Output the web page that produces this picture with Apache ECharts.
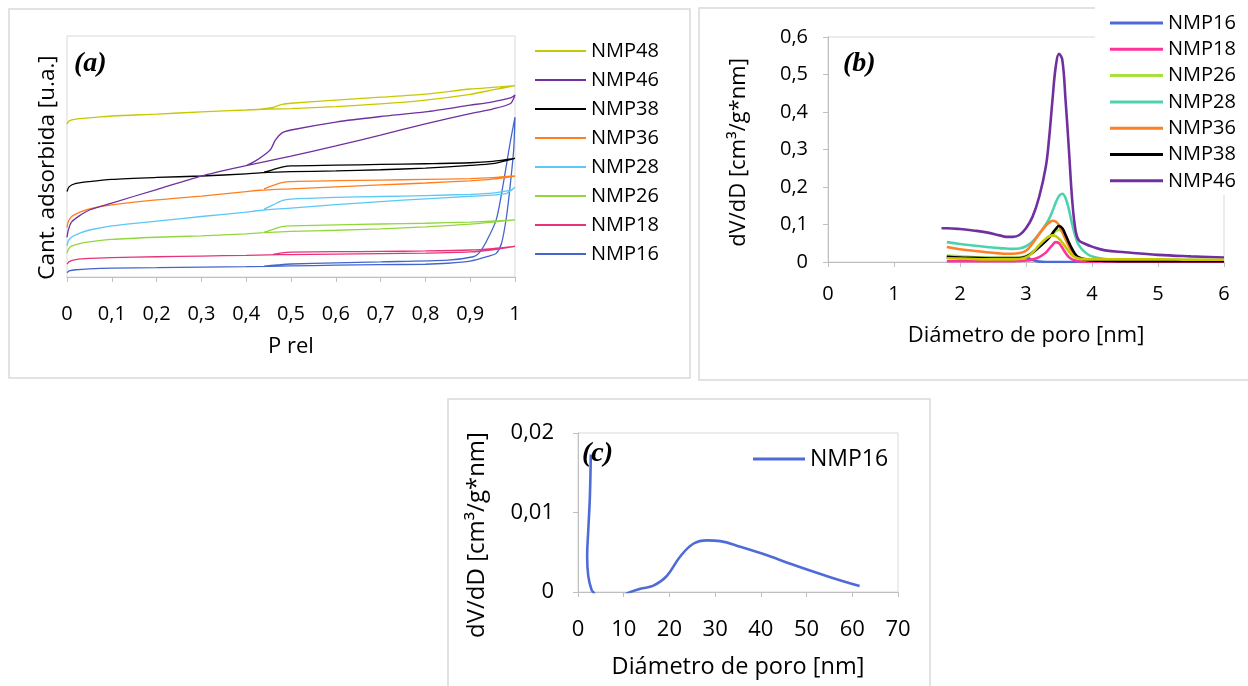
<!DOCTYPE html>
<html>
<head>
<meta charset="utf-8">
<script src="https://cdn.jsdelivr.net/npm/echarts@6/dist/echarts.min.js"></script>
<style>
html,body{margin:0;padding:0;background:#fff;}
#chart{width:1248px;height:686px;}
</style>
</head>
<body>
<div id="chart"></div>
<script>
// ---------- Panel (a): isotherms (adsorption branch then desorption branch) ----------
const aTicks = [0, 0.1, 0.2, 0.3, 0.4, 0.5, 0.6, 0.7, 0.8, 0.9, 1];
const aNames = ['NMP48', 'NMP46', 'NMP38', 'NMP36', 'NMP28', 'NMP26', 'NMP18', 'NMP16'];

const a48P = [0, 0.005, 0.02, 0.05, 0.1, 0.2, 0.3, 0.4, 0.45, 0.5, 0.6, 0.7, 0.8, 0.9, 0.95, 1.0, 0.95, 0.9, 0.8, 0.7, 0.6, 0.5, 0.48, 0.46, 0.44, 0.42];
const a48V = [63.5, 64.8, 65.5, 66.0, 66.8, 67.6, 68.5, 69.3, 69.7, 69.9, 70.7, 71.8, 73.4, 75.8, 77.6, 79.4, 78.7, 78.0, 75.9, 74.6, 73.4, 72.1, 71.6, 70.4, 69.9, 69.5];

const a46P = [0, 0.003, 0.01, 0.03, 0.05, 0.1, 0.2, 0.3, 0.4, 0.5, 0.6, 0.7, 0.8, 0.9, 0.95, 0.99, 1.0, 0.99, 0.95, 0.9, 0.8, 0.7, 0.6, 0.5, 0.48, 0.465, 0.455, 0.44, 0.42, 0.4];
const a46V = [16.5, 19.5, 22.8, 25.7, 27.8, 30.7, 36.3, 41.9, 46.2, 50.2, 54.4, 58.9, 63.5, 67.8, 69.7, 72.0, 75.5, 74.3, 72.7, 71.3, 68.5, 66.6, 64.3, 61.0, 59.8, 56.8, 53.1, 50.6, 48.1, 46.2];

const a38P = [0, 0.005, 0.02, 0.05, 0.1, 0.2, 0.3, 0.4, 0.43, 0.5, 0.6, 0.7, 0.8, 0.9, 0.95, 1.0, 0.95, 0.9, 0.8, 0.7, 0.6, 0.5, 0.48, 0.46, 0.44];
const a38V = [35.5, 37.5, 38.8, 39.6, 40.5, 41.3, 41.9, 42.8, 43.2, 43.7, 44.0, 44.5, 45.2, 46.3, 47.0, 49.2, 48.0, 47.4, 47.0, 46.7, 46.4, 46.1, 45.6, 44.6, 43.5];

const a36P = [0, 0.003, 0.01, 0.03, 0.05, 0.1, 0.2, 0.3, 0.4, 0.43, 0.5, 0.6, 0.7, 0.8, 0.9, 0.95, 1.0, 0.95, 0.9, 0.8, 0.7, 0.6, 0.5, 0.48, 0.46, 0.44];
const a36V = [20.5, 23.0, 25.0, 27.0, 28.3, 29.9, 32.0, 33.6, 35.4, 36.0, 36.6, 37.4, 38.2, 39.0, 39.9, 40.6, 41.9, 41.2, 40.8, 40.5, 40.2, 40.0, 39.6, 39.2, 38.0, 36.6];

const a28P = [0, 0.003, 0.01, 0.03, 0.05, 0.1, 0.2, 0.3, 0.4, 0.43, 0.5, 0.6, 0.7, 0.8, 0.9, 0.98, 1.0, 0.99, 0.95, 0.9, 0.8, 0.7, 0.6, 0.5, 0.48, 0.46, 0.44];
const a28V = [13.0, 15.0, 16.5, 18.3, 19.5, 21.2, 23.2, 25.1, 26.9, 27.6, 28.6, 30.0, 31.3, 32.4, 33.5, 34.6, 37.2, 36.0, 34.8, 34.3, 33.8, 33.4, 33.0, 32.3, 31.7, 29.9, 28.2];

const a26P = [0, 0.003, 0.01, 0.03, 0.05, 0.1, 0.2, 0.3, 0.4, 0.43, 0.5, 0.6, 0.7, 0.8, 0.9, 1.0, 0.9, 0.8, 0.7, 0.6, 0.5, 0.48, 0.46, 0.44];
const a26V = [10.0, 11.5, 12.8, 14.0, 14.6, 15.6, 16.5, 17.1, 17.9, 18.3, 18.9, 19.4, 20.0, 20.8, 21.9, 23.7, 22.8, 22.3, 22.0, 21.6, 21.2, 20.9, 19.8, 18.6];

const a18P = [0, 0.005, 0.02, 0.05, 0.1, 0.2, 0.3, 0.4, 0.45, 0.5, 0.6, 0.7, 0.8, 0.9, 0.95, 1.0, 0.95, 0.9, 0.8, 0.7, 0.6, 0.5, 0.48, 0.46];
const a18V = [5.3, 6.4, 7.2, 7.7, 8.0, 8.4, 8.7, 9.0, 9.2, 9.3, 9.5, 9.7, 9.9, 10.4, 11.3, 12.7, 11.8, 11.2, 10.8, 10.6, 10.5, 10.3, 10.0, 9.4];

const a16P = [0, 0.005, 0.02, 0.05, 0.1, 0.2, 0.3, 0.4, 0.5, 0.6, 0.7, 0.8, 0.85, 0.9, 0.942, 0.958, 0.970, 0.981, 0.989, 0.997, 1.0, 0.989, 0.974, 0.958, 0.934, 0.919, 0.907, 0.85, 0.7, 0.6, 0.5, 0.47, 0.44];
const a16V = [1.8, 2.5, 3.0, 3.4, 3.7, 3.9, 4.1, 4.3, 4.6, 4.9, 5.1, 5.3, 5.7, 6.6, 8.7, 9.8, 14.0, 25.0, 37.5, 52.7, 66.3, 55.5, 38.9, 23.7, 14.0, 9.8, 8.4, 7.0, 6.3, 5.9, 5.4, 5.0, 4.5];

// ---------- Panel (b): pore size distribution 0–6 nm ----------
const bTicksX = [0, 1, 2, 3, 4, 5, 6];
const bTicksY = [0, 0.1, 0.2, 0.3, 0.4, 0.5, 0.6];
const bDiam = [1.72, 1.8, 2.0, 2.2, 2.4, 2.6, 2.7, 2.8, 2.9, 3.0, 3.1, 3.2, 3.3, 3.35, 3.4, 3.45, 3.5, 3.55, 3.6, 3.65, 3.7, 3.75, 3.8, 3.9, 4.0, 4.2, 4.5, 5.0, 5.5, 6.0];
const bNMP16 = [null, 0.012, 0.011, 0.011, 0.011, 0.011, 0.011, 0.011, 0.012, 0.012, 0.005, 0.001, 0, 0, 0, 0, 0, 0, 0, 0, 0, 0, 0, 0, 0, 0, 0, 0, 0, 0];
const bNMP18 = [null, 0.002, 0.002, 0.002, 0.002, 0.002, 0.002, 0.002, 0.003, 0.004, 0.007, 0.013, 0.025, 0.035, 0.045, 0.053, 0.050, 0.038, 0.024, 0.013, 0.007, 0.004, 0.002, 0.001, 0.001, 0.001, 0.001, 0.001, 0.001, 0.001];
const bNMP26 = [null, 0.017, 0.015, 0.013, 0.012, 0.011, 0.011, 0.011, 0.012, 0.016, 0.026, 0.042, 0.058, 0.066, 0.074, 0.082, 0.086, 0.080, 0.064, 0.046, 0.030, 0.019, 0.012, 0.008, 0.007, 0.006, 0.006, 0.006, 0.005, 0.005];
const bNMP28 = [null, 0.053, 0.048, 0.044, 0.040, 0.037, 0.036, 0.035, 0.036, 0.042, 0.055, 0.075, 0.100, 0.115, 0.135, 0.158, 0.176, 0.182, 0.170, 0.140, 0.100, 0.068, 0.045, 0.025, 0.015, 0.008, 0.006, 0.005, 0.005, 0.004];
const bNMP36 = [null, 0.040, 0.034, 0.030, 0.026, 0.023, 0.022, 0.022, 0.024, 0.030, 0.050, 0.075, 0.097, 0.105, 0.110, 0.108, 0.098, 0.080, 0.060, 0.042, 0.028, 0.018, 0.012, 0.008, 0.006, 0.005, 0.005, 0.004, 0.004, 0.004];
const bNMP38 = [null, 0.014, 0.012, 0.011, 0.010, 0.009, 0.009, 0.009, 0.010, 0.014, 0.025, 0.040, 0.056, 0.065, 0.076, 0.088, 0.096, 0.090, 0.072, 0.052, 0.034, 0.020, 0.012, 0.006, 0.004, 0.003, 0.002, 0.002, 0.002, 0.002];
const bNMP46 = [0.090, 0.090, 0.088, 0.084, 0.079, 0.071, 0.067, 0.067, 0.072, 0.090, 0.121, 0.174, 0.254, 0.330, 0.430, 0.520, 0.555, 0.539, 0.430, 0.300, 0.165, 0.085, 0.058, 0.048, 0.041, 0.031, 0.026, 0.019, 0.015, 0.012];
const bNMP48 = [null, 0.010, 0.009, 0.008, 0.007, 0.007, 0.007, 0.007, 0.008, 0.012, 0.025, 0.045, 0.062, 0.068, 0.071, 0.069, 0.062, 0.052, 0.040, 0.028, 0.018, 0.012, 0.009, 0.007, 0.007, 0.007, 0.007, 0.007, 0.006, 0.006];

// ---------- Panel (c): NMP16, 0–70 nm ----------
const cTicksX = [0, 10, 20, 30, 40, 50, 60, 70];
const cTicksY = [0, 0.01, 0.02];
const cDiam = [2.8, 2.6, 2.25, 2.0, 2.25, 2.95, 3.45, 5.0, 8.0, 10.6, 13.6, 16.5, 19.4, 22.4, 25.3, 28.2, 31.1, 35.5, 40.4, 47.7, 55.0, 61.6];
const cNMP16 = [0.0173, 0.0120, 0.0078, 0.0045, 0.0020, 0.0003, -0.0001, -0.0015, -0.0012, -0.0002, 0.0004, 0.0008, 0.0020, 0.0045, 0.0061, 0.0065, 0.0064, 0.0057, 0.0048, 0.0033, 0.0019, 0.00075];

// ---------- styling ----------
const FONT = '"Open Sans", "Liberation Sans", sans-serif';
const AXIS_GRAY = '#bfbfbf';
const BORDER_GRAY = '#d9d9d9';
const comma = v => String(+Number(v).toFixed(2)).replace('.', ',');

const aColors = {NMP48: '#c8c800', NMP46: '#7030a0', NMP38: '#000000', NMP36: '#ff7f1e', NMP28: '#5bc8f5', NMP26: '#92d83c', NMP18: '#e6337a', NMP16: '#4466cc'};
const aData = {NMP48: [a48P, a48V], NMP46: [a46P, a46V], NMP38: [a38P, a38V], NMP36: [a36P, a36V], NMP28: [a28P, a28V], NMP26: [a26P, a26V], NMP18: [a18P, a18V], NMP16: [a16P, a16V]};

const bSeriesDef = [
  ['NMP16', bNMP16, '#4a6bd6'],
  ['NMP18', bNMP18, '#ff3399'],
  ['NMP26', bNMP26, '#a8e040'],
  ['NMP28', bNMP28, '#4fd1b0'],
  ['NMP36', bNMP36, '#ff7f27'],
  ['NMP38', bNMP38, '#000000'],
  ['NMP46', bNMP46, '#7030a0'],
  ['NMP48', bNMP48, '#c8c800']
];
const bLegendNames = ['NMP16', 'NMP18', 'NMP26', 'NMP28', 'NMP36', 'NMP38', 'NMP46'];

const zip = (xs, ys) => xs.map((x, i) => [x, ys[i]]);

const series = [];
aNames.slice().reverse().forEach(n => {
  series.push({
    name: n, type: 'line', xAxisIndex: 0, yAxisIndex: 0,
    data: zip(aData[n][0], aData[n][1]),
    showSymbol: false, smooth: 0.25, color: aColors[n],
    lineStyle: {width: 1.3}
  });
});
bSeriesDef.forEach(([n, vals, col]) => {
  series.push({
    name: n + ' (b)', type: 'line', xAxisIndex: 1, yAxisIndex: 1,
    data: zip(bDiam, vals),
    showSymbol: false, smooth: 0.4, color: col, connectNulls: false,
    lineStyle: {width: 2.6}
  });
});
series.push({
  name: 'NMP16 (c)', type: 'line', xAxisIndex: 2, yAxisIndex: 2,
  data: zip(cDiam, cNMP16),
  showSymbol: false, smooth: 0.4, color: '#4f6bd8',
  lineStyle: {width: 2.6}
});

const baseAxis = {
  axisLine: {show: true, lineStyle: {color: AXIS_GRAY, width: 1}},
  axisTick: {show: true, inside: false, length: 5, lineStyle: {color: AXIS_GRAY}},
  splitLine: {show: false},
  nameLocation: 'middle',
  nameTextStyle: {color: '#000', fontFamily: FONT, fontSize: 22}
};

const option = {
  animation: false,
  backgroundColor: '#ffffff',
  textStyle: {fontFamily: FONT},
  grid: [
    {left: 67, top: 36, width: 448, height: 241, show: true, borderColor: BORDER_GRAY, borderWidth: 1, backgroundColor: 'transparent', containLabel: false},
    {left: 828, top: 37, width: 396, height: 225, show: true, borderColor: BORDER_GRAY, borderWidth: 1, backgroundColor: 'transparent', containLabel: false},
    {left: 578, top: 433, width: 320, height: 159, show: true, borderColor: BORDER_GRAY, borderWidth: 1, backgroundColor: 'transparent', containLabel: false}
  ],
  xAxis: [
    Object.assign({}, baseAxis, {
      gridIndex: 0, type: 'value', min: aTicks[0], max: aTicks[aTicks.length - 1], interval: 0.1,
      name: 'P rel', nameGap: 59,
      axisLabel: {color: '#000', fontSize: 20, margin: 27, formatter: comma}
    }),
    Object.assign({}, baseAxis, {
      gridIndex: 1, type: 'value', min: bTicksX[0], max: bTicksX[bTicksX.length - 1], interval: 1,
      name: 'Diámetro de poro [nm]', nameGap: 63,
      axisLabel: {color: '#000', fontSize: 20, margin: 22, formatter: comma}
    }),
    Object.assign({}, baseAxis, {
      gridIndex: 2, type: 'value', min: cTicksX[0], max: cTicksX[cTicksX.length - 1], interval: 10,
      name: 'Diámetro de poro [nm]', nameGap: 63,
      nameTextStyle: {color: '#000', fontFamily: FONT, fontSize: 23.5},
      axisLabel: {color: '#000', fontSize: 22, margin: 27, formatter: comma}
    })
  ],
  yAxis: [
    Object.assign({}, baseAxis, {
      gridIndex: 0, type: 'value', min: 0, max: 100,
      axisLine: {show: false}, axisTick: {show: false}, axisLabel: {show: false},
      name: 'Cant. adsorbida [u.a.]', nameGap: 8,
      nameTextStyle: {color: '#000', fontFamily: FONT, fontSize: 22.5, padding: [0, 22, 0, 0]}
    }),
    Object.assign({}, baseAxis, {
      gridIndex: 1, type: 'value', min: bTicksY[0], max: bTicksY[bTicksY.length - 1], interval: 0.1,
      name: 'dV/dD [cm³/g*nm]', nameGap: 78,
      nameTextStyle: {color: '#000', fontFamily: FONT, fontSize: 22, padding: [0, 6, 0, 0]},
      axisLabel: {color: '#000', fontSize: 20, margin: 20, formatter: comma}
    }),
    Object.assign({}, baseAxis, {
      gridIndex: 2, type: 'value', min: cTicksY[0], max: cTicksY[cTicksY.length - 1], interval: 0.01,
      name: 'dV/dD [cm³/g*nm]', nameGap: 89,
      nameTextStyle: {color: '#000', fontFamily: FONT, fontSize: 24, padding: [0, 45, 0, 0]},
      axisLabel: {color: '#000', fontSize: 22, margin: 24, formatter: comma}
    })
  ],
  legend: [
    {
      orient: 'vertical', left: 535, top: 40, padding: 0, itemGap: 7,
      itemWidth: 51, itemHeight: 2, icon: 'rect',
      data: aNames,
      textStyle: {color: '#000', fontFamily: FONT, fontSize: 20, lineHeight: 22}
    },
    {
      orient: 'vertical', left: 1095, top: 0, padding: [13, 40, 4, 15], itemGap: 6.3,
      backgroundColor: '#ffffff',
      itemWidth: 53, itemHeight: 3, icon: 'rect',
      data: bLegendNames.map(n => n + ' (b)'),
      formatter: name => name.replace(' (b)', ''),
      textStyle: {color: '#000', fontFamily: FONT, fontSize: 20, lineHeight: 20}
    },
    {
      orient: 'vertical', left: 753, top: 447, padding: 0,
      itemWidth: 52, itemHeight: 3, icon: 'rect',
      data: ['NMP16 (c)'],
      formatter: name => name.replace(' (c)', ''),
      textStyle: {color: '#000', fontFamily: FONT, fontSize: 23, lineHeight: 24}
    }
  ],
  graphic: [
    {type: 'rect', silent: true, z: -1, shape: {x: 9, y: 9, width: 681, height: 369}, style: {fill: 'none', stroke: BORDER_GRAY, lineWidth: 1.5}},
    {type: 'rect', silent: true, z: -1, shape: {x: 699, y: 8, width: 580, height: 372}, style: {fill: 'none', stroke: BORDER_GRAY, lineWidth: 1.5}},
    {type: 'rect', silent: true, z: -1, shape: {x: 448, y: 399, width: 482, height: 300}, style: {fill: 'none', stroke: BORDER_GRAY, lineWidth: 1.5}},
    {type: 'text', left: 74, top: 50, z: 10, style: {text: '(a)', font: 'italic bold 28px "Liberation Serif", serif', fill: '#000'}},
    {type: 'text', left: 843, top: 50, z: 10, style: {text: '(b)', font: 'italic bold 28px "Liberation Serif", serif', fill: '#000'}},
    {type: 'text', left: 582, top: 440, z: 10, style: {text: '(c)', font: 'italic bold 28px "Liberation Serif", serif', fill: '#000'}}
  ],
  series: series
};

const chart = echarts.init(document.getElementById('chart'), null, {renderer: 'canvas'});
chart.setOption(option);
</script>
</body>
</html>
